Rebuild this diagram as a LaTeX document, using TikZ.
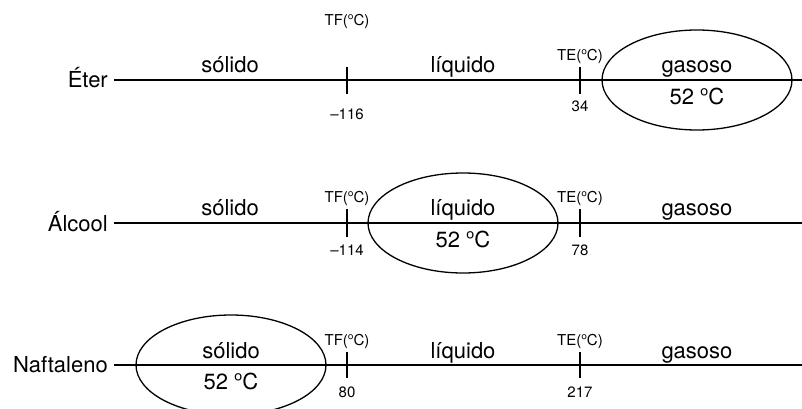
\documentclass[tikz,border=0pt]{standalone}
\usepackage{fontspec}
\setmainfont{TeX Gyre Heros}
\newfontfamily\ordfont{Open Sans}
\newcommand{\ordo}{{\ordfont º}}
\usetikzlibrary{shapes.geometric}
\tikzset{
  big/.style={anchor=base, inner sep=0pt, font=\fontsize{22}{26}\selectfont},
  rowlabel/.style={anchor=base east, inner sep=0pt, font=\fontsize{22}{26}\selectfont},
  small/.style={anchor=base, inner sep=0pt, font=\fontsize{15}{18}\selectfont},
  axis/.style={line width=1.3pt},
  tickmark/.style={line width=1.3pt},
  oval/.style={draw, ellipse, line width=1.3pt, minimum width=190pt, minimum height=100pt, inner sep=0pt}
}
\begin{document}
\begin{tikzpicture}[x=1pt,y=-1pt]
\useasboundingbox (0,0) rectangle (802,409);
% ---------- Row 1: Eter ----------
\node[rowlabel] (eter) at (108,88) {Éter};
\coordinate (ea) at (114,80);
\coordinate (eb) at (802,80);
\draw[axis] (ea) -- (eb);
\coordinate (etf1) at (347,67); \coordinate (etf2) at (347,94);
\coordinate (ete1) at (580,67); \coordinate (ete2) at (580,94);
\draw[tickmark] (etf1) -- (etf2);
\draw[tickmark] (ete1) -- (ete2);
\node[oval] (eov) at (697,80) {};
\node[big] (es) at (230,73) {sólido};
\node[big] (el) at (463,73) {líquido};
\node[big] (eg) at (697,73) {gasoso};
\node[big] (et) at (697,104) {52 \ordo C};
\node[small] (etf) at (347,26) {TF(\ordo C)};
\node[small] (ete) at (580,61) {TE(\ordo C)};
\node[small] (etfv) at (347,120) {–116};
\node[small] (etev) at (580,112) {34};
% ---------- Row 2: Alcool ----------
\node[rowlabel] (alc) at (108,231) {Álcool};
\coordinate (aa) at (114,223);
\coordinate (ab) at (802,223);
\draw[axis] (aa) -- (ab);
\coordinate (atf1) at (347,209); \coordinate (atf2) at (347,237);
\coordinate (ate1) at (580,209); \coordinate (ate2) at (580,237);
\draw[tickmark] (atf1) -- (atf2);
\draw[tickmark] (ate1) -- (ate2);
\node[oval] (aov) at (463,223) {};
\node[big] (as) at (230,215) {sólido};
\node[big] (al) at (463,215) {líquido};
\node[big] (ag) at (697,215) {gasoso};
\node[big] (at) at (463,247) {52 \ordo C};
\node[small] (atf) at (347,202) {TF(\ordo C)};
\node[small] (ate) at (580,202) {TE(\ordo C)};
\node[small] (atfv) at (347,255) {–114};
\node[small] (atev) at (580,255) {78};
% ---------- Row 3: Naftaleno ----------
\node[rowlabel] (naf) at (108,372) {Naftaleno};
\coordinate (na) at (114,365);
\coordinate (nb) at (802,365);
\draw[axis] (na) -- (nb);
\coordinate (ntf1) at (347,352); \coordinate (ntf2) at (347,378);
\coordinate (nte1) at (580,352); \coordinate (nte2) at (580,378);
\draw[tickmark] (ntf1) -- (ntf2);
\draw[tickmark] (nte1) -- (nte2);
\node[oval] (nov) at (231,365) {};
\node[big] (ns) at (231,358) {sólido};
\node[big] (nl) at (463,358) {líquido};
\node[big] (ng) at (697,358) {gasoso};
\node[big] (nt) at (231,389) {52 \ordo C};
\node[small] (ntf) at (347,345) {TF(\ordo C)};
\node[small] (nte) at (580,345) {TE(\ordo C)};
\node[small] (ntfv) at (347,397) {80};
\node[small] (ntev) at (580,397) {217};
\end{tikzpicture}
\end{document}
